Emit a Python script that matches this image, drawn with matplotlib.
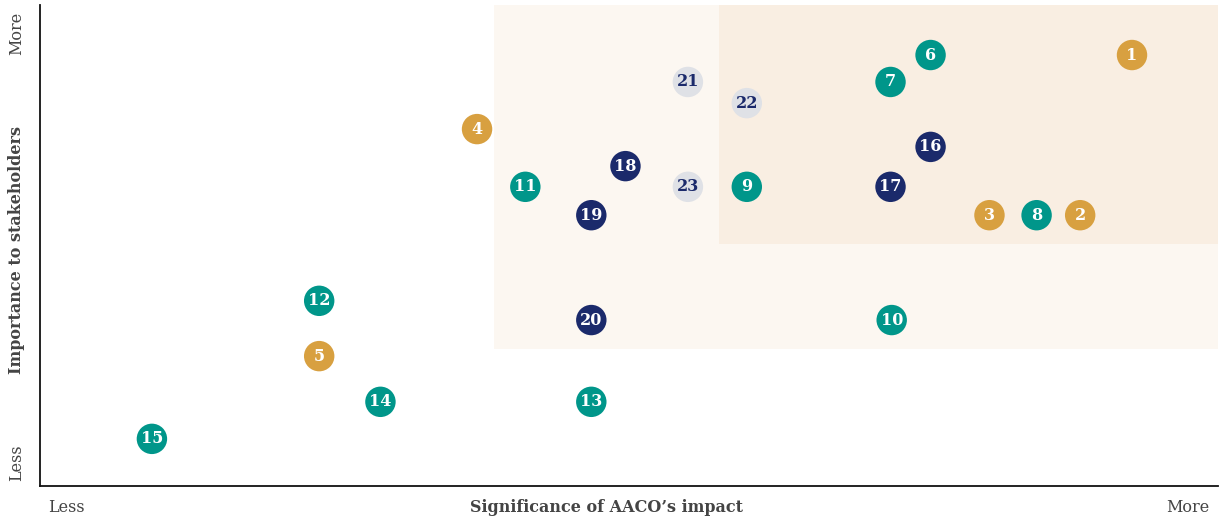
import matplotlib
matplotlib.use("Agg")
import matplotlib.pyplot as plt
from matplotlib.patches import Rectangle

# ---- data ----
ids = list(range(1, 24))
impact = [92.7, 88.3, 80.6, 37.1, 23.7, 75.6, 72.2, 84.6, 60.0, 72.3,
          41.2, 23.7, 46.8, 28.9, 9.5, 75.6, 72.2, 49.7, 46.8, 46.8,
          55.0, 60.0, 55.0]
importance = [89.6, 56.3, 56.3, 74.2, 27.0, 89.6, 84.0, 56.3, 62.2, 34.5,
              62.2, 38.5, 17.5, 17.5, 9.8, 70.5, 62.2, 66.5, 56.3, 34.5,
              84.0, 79.6, 62.2]
groups = ["gold", "gold", "gold", "gold", "gold",
          "teal", "teal", "teal", "teal", "teal",
          "teal", "teal", "teal", "teal", "teal",
          "navy", "navy", "navy", "navy", "navy",
          "grey", "grey", "grey"]
# shaded zones: (x0, y0)
zone_outer = (38.5, 28.5)
zone_inner = (57.6, 50.3)

fill = {"gold": "#D8A040", "teal": "#00968A", "navy": "#1B2A6B", "grey": "#DFE1E6"}
txtc = {"gold": "white", "teal": "white", "navy": "white", "grey": "#1B2A6B"}

fig = plt.figure(figsize=(12.21, 5.2), dpi=100)
ax = fig.add_axes([40/1221, 34/520, 1178/1221, 481/520])
ax.set_xlim(0, 100)
ax.set_ylim(0, 100)

ax.add_patch(Rectangle(zone_outer, 100 - zone_outer[0], 100 - zone_outer[1],
                       facecolor="#FCF7F1", edgecolor="none", zorder=0))
ax.add_patch(Rectangle(zone_inner, 100 - zone_inner[0], 100 - zone_inner[1],
                       facecolor="#F9EEE2", edgecolor="none", zorder=0.5))

for i, x, y, g in zip(ids, impact, importance, groups):
    ax.scatter(x, y, s=480, color=fill[g], edgecolors="none", zorder=3)
    ax.text(x, y, str(i), ha="center", va="center", color=txtc[g],
            fontsize=11.5, fontweight="bold", family="DejaVu Serif", zorder=4)

for s in ["top", "right"]:
    ax.spines[s].set_visible(False)
for s in ["left", "bottom"]:
    ax.spines[s].set_linewidth(1.3)
    ax.spines[s].set_color("#111111")
ax.set_xticks([])
ax.set_yticks([])

lab = dict(color="#444444", family="DejaVu Serif", fontsize=11.5)
fig.text(66/1221, 1 - 508/520, "Less", ha="center", va="center", **lab)
fig.text(1188/1221, 1 - 508/520, "More", ha="center", va="center", **lab)
fig.text(606/1221, 1 - 507/520, "Significance of AACO\u2019s impact", ha="center",
         va="center", fontweight="bold", **lab)
fig.text(17/1221, 1 - 33/520, "More", ha="center", va="center", rotation=90, **lab)
fig.text(17/1221, 1 - 463/520, "Less", ha="center", va="center", rotation=90, **lab)
fig.text(17/1221, 1 - 250/520, "Importance to stakeholders", ha="center",
         va="center", rotation=90, fontweight="bold", **lab)

fig.savefig("out.png", dpi=100)
